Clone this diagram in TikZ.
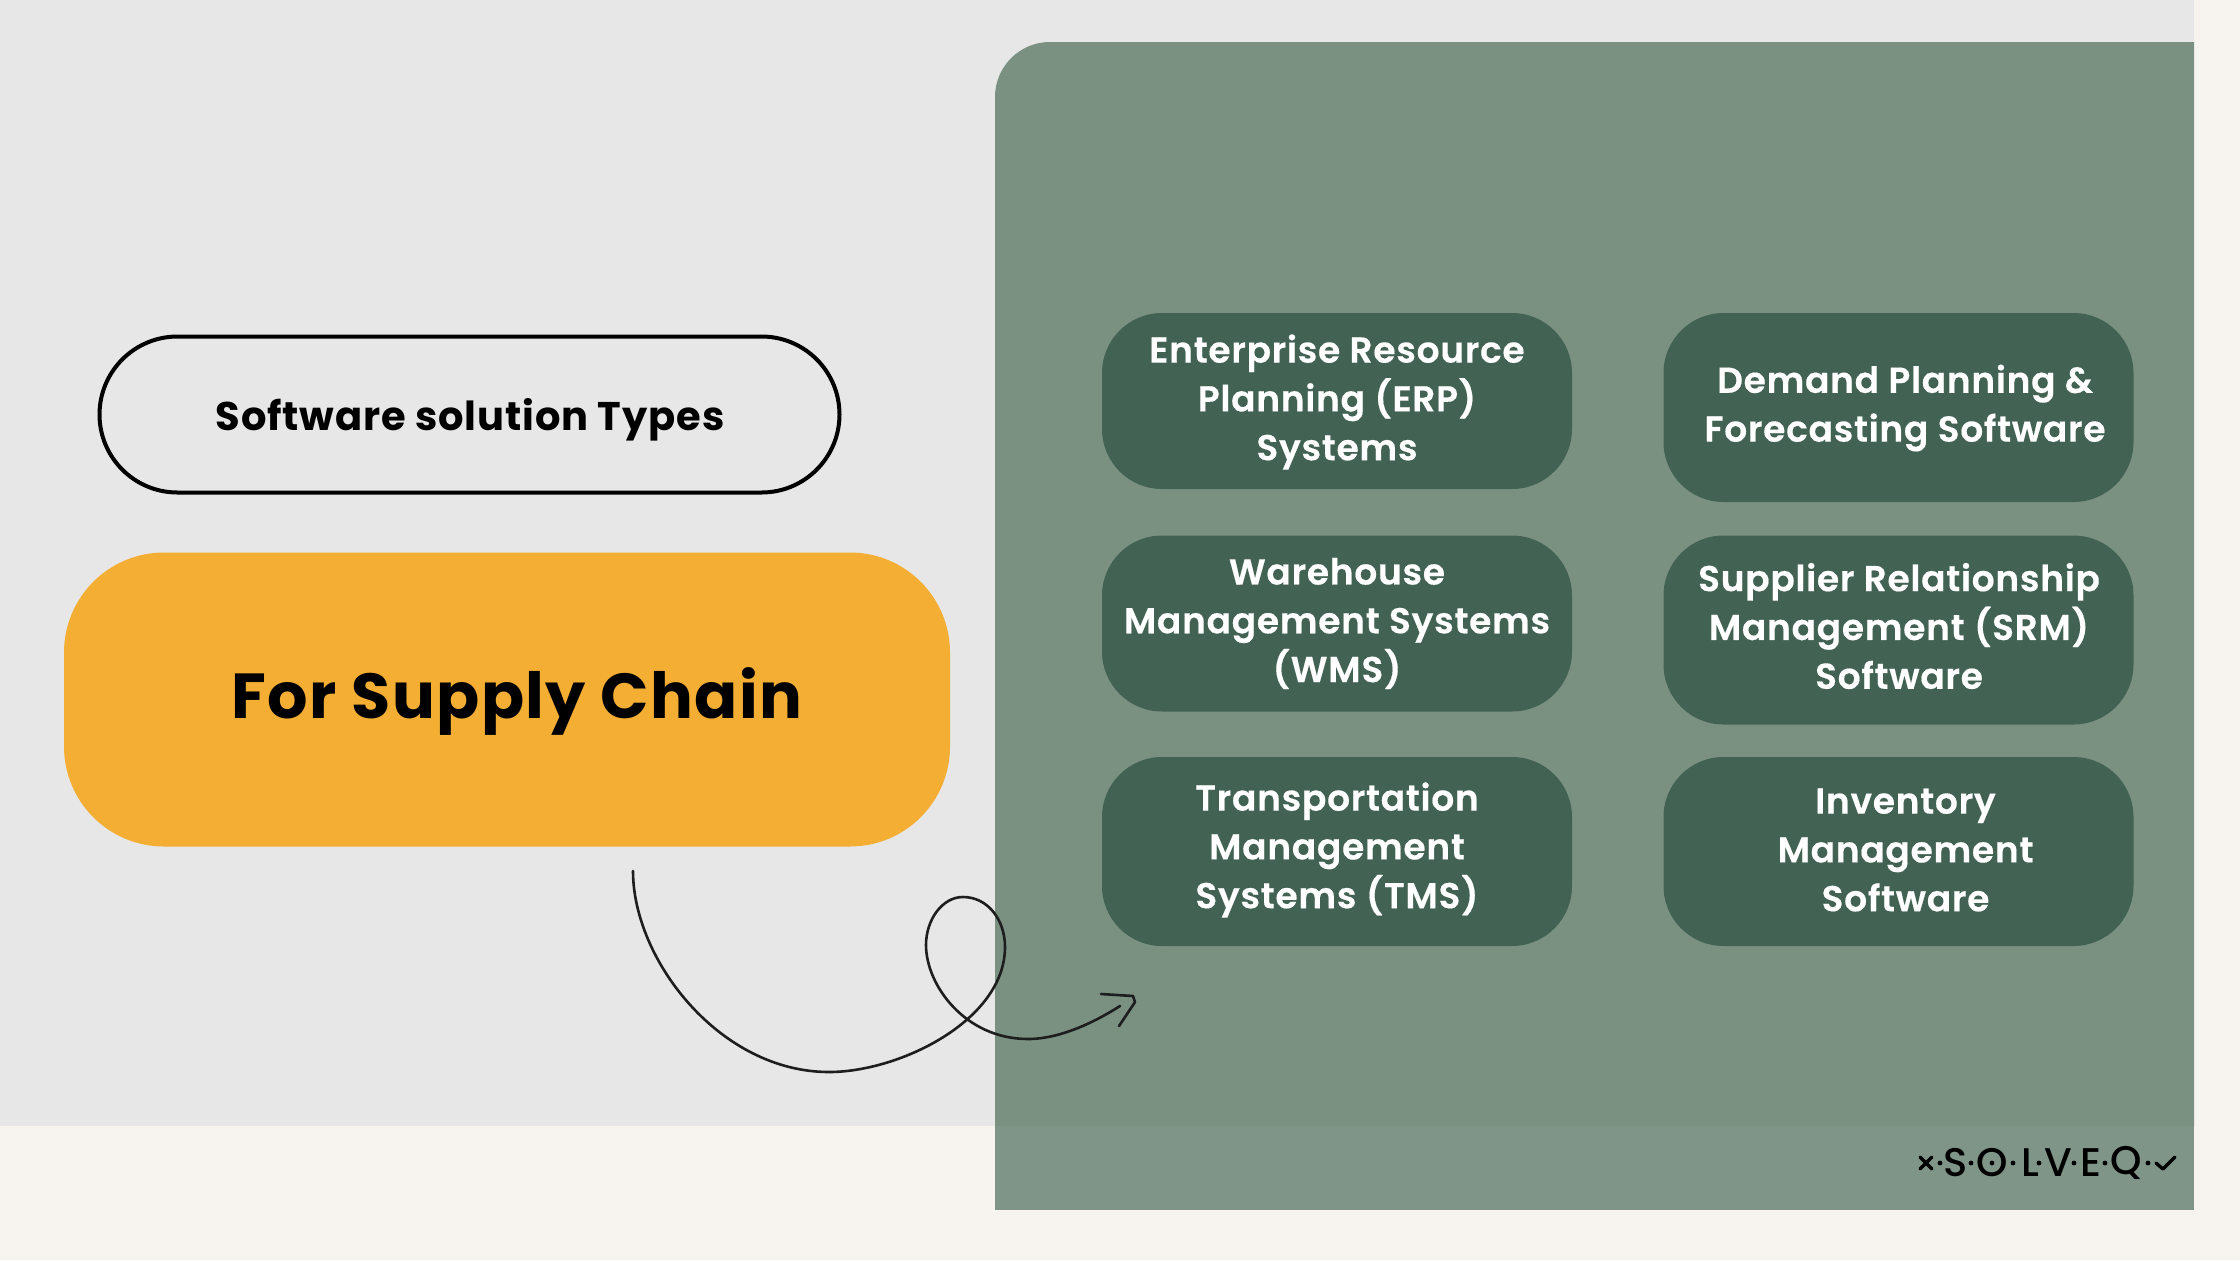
\documentclass[tikz,border=0pt]{standalone}
\usepackage{fontspec}
\setmainfont{Poppins}[BoldFont={Poppins Bold}]
\newfontfamily\semifont{Poppins SemiBold}[LetterSpace=2,FakeBold=0.35]
\newfontfamily\titlefont{Poppins Bold}[LetterSpace=2.2]
\newfontfamily\headfont{Poppins Bold}[LetterSpace=2.2]
\newfontfamily\logofont{Poppins Medium}
\definecolor{pagecream}{HTML}{F7F3EE}
\definecolor{pagegrey}{HTML}{E7E7E7}
\definecolor{panelgreen}{HTML}{7A9182}
\definecolor{panellight}{HTML}{7F9588}
\definecolor{boxgreen}{HTML}{426253}
\definecolor{amber}{HTML}{F3AE33}
\definecolor{ink}{HTML}{1E1E1E}
\tikzset{
  softbox/.style={fill=boxgreen,rounded corners=30pt,inner sep=0pt,minimum width=235pt},
  boxtext/.style={text=white,align=center,font=\semifont\fontsize{18}{24.4}\selectfont,inner sep=0pt},
  logotext/.style={text=black,font=\logofont\fontsize{20}{20}\selectfont,inner sep=0pt},
  logodot/.style={circle,fill=black,inner sep=0pt,minimum size=2.4pt},
  logomark/.style={draw=black,line width=1.7pt,line cap=round,line join=round},
  curveline/.style={draw=ink,line width=1.3pt,line cap=round,line join=round},
}
\begin{document}
\begin{tikzpicture}[x=0.5pt,y=-0.5pt]
\useasboundingbox (0,0) rectangle (2240,1260);
% page background
\fill[pagecream] (0,0) rectangle (2240,1260);
\fill[pagegrey] (0,0) rectangle (2194,1126);
% green panel, slightly lighter where it crosses the cream band
\fill[panellight] (995,1100) rectangle (2194,1210);
\fill[panelgreen] (995,1126) -- (995,97) arc[start angle=180,end angle=90,radius=27.5pt] -- (2194,42) -- (2194,1126) -- cycle;

% headline shapes
\node[draw=black,line width=2pt,rounded corners=39pt,inner sep=0pt,minimum width=370pt,minimum height=78pt] (kicker) at (469.5,414.5) {};
\node[inner sep=0pt,font=\titlefont\fontsize{20}{24}\selectfont] (kickertext) at (470,420) {Software solution Types};
\node[fill=amber,rounded corners=50pt,inner sep=0pt,minimum width=443pt,minimum height=147pt] (banner) at (507,699.5) {};
\node[inner sep=0pt,font=\headfont\fontsize{31.8}{38}\selectfont] (bannertext) at (517,701) {For Supply Chain};

% software category boxes
\node[softbox,minimum height=88pt] (erp) at (1337,401) {};
\node[softbox,minimum height=88pt] (wms) at (1337,623.5) {};
\node[softbox,minimum height=94.5pt] (tms) at (1337,851.5) {};
\node[softbox,minimum height=94.5pt] (dem) at (1898.5,407.5) {};
\node[softbox,minimum height=94.5pt] (srm) at (1898.5,630) {};
\node[softbox,minimum height=94.5pt] (inv) at (1898.5,851.5) {};

\node[boxtext] (erptext) at (1337,402) {Enterprise Resource\\Planning (ERP)\\Systems};
\node[boxtext] (wmstext) at (wms.center) {Warehouse\\Management Systems\\(WMS)};
\node[boxtext] (tmstext) at (1337,850) {Transportation\\Management\\Systems (TMS)};
\node[boxtext] (demtext) at (1905,408) {Demand Planning \&\\Forecasting Software};
\node[boxtext] (srmtext) at (1899,626) {Supplier Relationship\\Management (SRM)\\Software};
\node[boxtext] (invtext) at (1905.5,850) {Inventory\\Management\\Software};

% hand-drawn looping arrow
\coordinate (cstart) at (633,871);
\coordinate (cbottom) at (829,1072);
\coordinate (cright) at (1005,947);
\coordinate (ctop) at (963,897);
\coordinate (cleft) at (926,945);
\coordinate (cdip) at (1028,1039);
\coordinate (cend) at (1120,1006);
\coordinate (hbarb) at (1101,994);
\coordinate (hbend) at (1133,996);
\coordinate (hbend2) at (1135,1002);
\coordinate (hfoot) at (1119,1026);
\draw[curveline] (cstart) .. controls (633,960) and (720,1072) .. (cbottom)
  .. controls (900,1072) and (1005,1020) .. (cright)
  .. controls (1005,920) and (988,897) .. (ctop)
  .. controls (942,897) and (926,920) .. (cleft)
  .. controls (926,985) and (965,1039) .. (cdip)
  .. controls (1060,1039) and (1095,1022) .. (cend);
\draw[curveline] (hbarb) -- (hbend) -- (hbend2) -- (hfoot);

% wordmark
\draw[logomark] (1920,1157) -- (1932,1169) (1932,1157) -- (1920,1169);
\node[logotext] (lgs) at (1956,1163) {S};
\node[logotext] (lgo) at (1992,1163) {O};
\node[logotext] (lgl) at (2030,1163) {L};
\node[logotext] (lgv) at (2058,1163) {V};
\node[logotext] (lge) at (2091,1163) {E};
\node[logotext] (lgq) at (2126,1163) {Q};
\draw[logomark] (2156,1163) -- (2163,1169) -- (2175,1157);
\foreach \px in {1940,1971,1992,2013,2039,2074,2105,2148}
  \node[logodot] at (\px,1163) {};
\end{tikzpicture}
\end{document}
